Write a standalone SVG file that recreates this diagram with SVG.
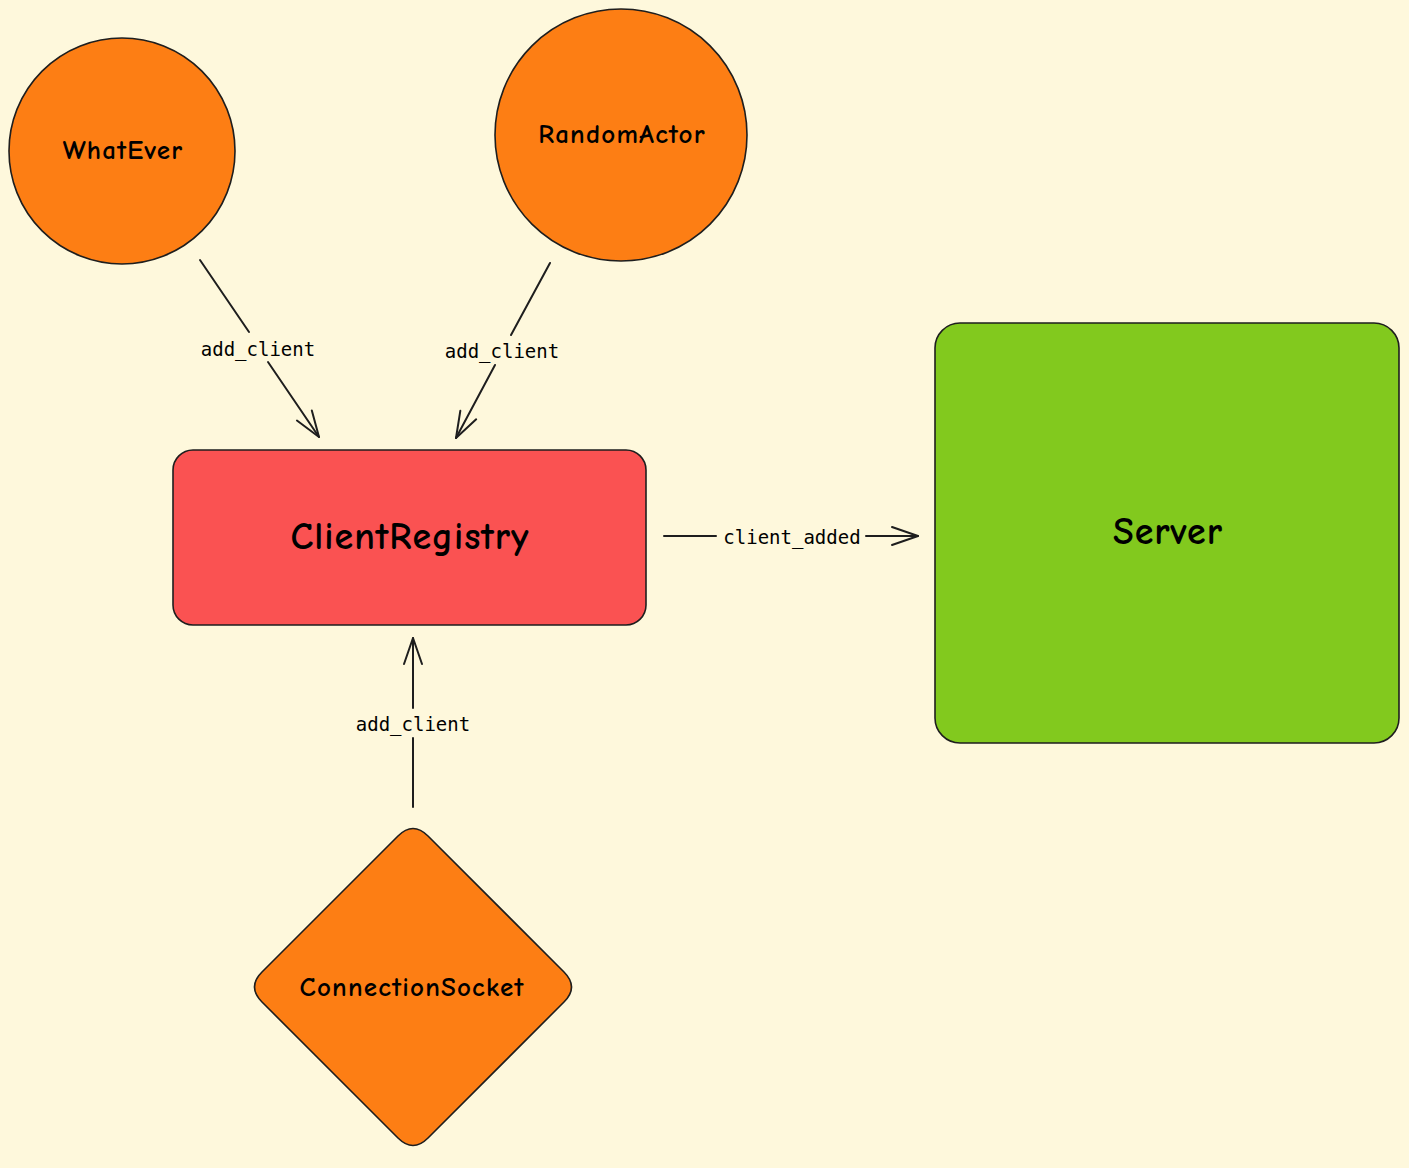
<svg xmlns="http://www.w3.org/2000/svg" width="1409" height="1168" viewBox="0 0 1409 1168">
<style>
.node{stroke:#1e1e1e;stroke-width:1.6}
.orange{fill:#fd7e14}
.red{fill:#fa5252}
.green{fill:#82c91e}
.title{font-family:"Comic Neue","Lato","Liberation Sans",sans-serif;font-weight:bold;fill:#000;text-anchor:middle;dominant-baseline:central}
.sm{font-size:27px;letter-spacing:1.2px}
.lg{font-size:38px;letter-spacing:1px}
.lbl{font-family:"DejaVu Sans Mono","Liberation Mono",monospace;font-size:19px;fill:#000;text-anchor:middle;dominant-baseline:central}
.edge{stroke:#1e1e1e;stroke-width:2;fill:none;stroke-linecap:round}
</style>
<defs>
<marker id="arr" viewBox="0 0 30 30" refX="28" refY="15" markerWidth="30" markerHeight="30" markerUnits="userSpaceOnUse" orient="auto">
<path d="M2,6 L28,15 L2,24" fill="none" stroke="#1e1e1e" stroke-width="2" stroke-linecap="round" stroke-linejoin="round"/>
</marker>
</defs>
<rect width="1409" height="1168" fill="#fef8dc"/>
<g id="connectors">
<g id="e1">
<line class="edge" x1="200" y1="260" x2="249" y2="332"/>
<line class="edge" x1="268" y1="362" x2="319" y2="437" marker-end="url(#arr)"/>
<text class="lbl" x="258" y="349">add_client</text>
</g>
<g id="e2">
<line class="edge" x1="550" y1="263" x2="511" y2="335"/>
<line class="edge" x1="495" y1="365" x2="456" y2="438" marker-end="url(#arr)"/>
<text class="lbl" x="502" y="351">add_client</text>
</g>
<g id="e3">
<line class="edge" x1="664" y1="536" x2="716" y2="536"/>
<line class="edge" x1="866" y1="536" x2="918" y2="536" marker-end="url(#arr)"/>
<text class="lbl" x="792" y="537">client_added</text>
</g>
<g id="e4">
<line class="edge" x1="413" y1="807" x2="413" y2="738"/>
<line class="edge" x1="413" y1="708" x2="413" y2="638" marker-end="url(#arr)"/>
<text class="lbl" x="413" y="724">add_client</text>
</g>
</g>
<g id="WhatEver">
<circle class="node orange" cx="122" cy="151" r="113"/>
<text class="title sm" x="123" y="150">WhatEver</text>
</g>
<g id="RandomActor">
<circle class="node orange" cx="621" cy="135" r="126"/>
<text class="title sm" x="622" y="134">RandomActor</text>
</g>
<g id="ClientRegistry">
<rect class="node red" x="173" y="450" width="473" height="175" rx="20"/>
<text class="title lg" x="410" y="537">ClientRegistry</text>
</g>
<g id="Server">
<rect class="node green" x="935" y="323" width="464" height="420" rx="25"/>
<text class="title lg" x="1168" y="532">Server</text>
</g>
<g id="ConnectionSocket">
<path class="node orange" d="M398,836 Q413,821 428,836 L564,972 Q579,987 564,1002 L428,1138 Q413,1153 398,1138 L262,1002 Q247,987 262,972 Z"/>
<text class="title sm" x="412" y="987">ConnectionSocket</text>
</g>
</svg>
